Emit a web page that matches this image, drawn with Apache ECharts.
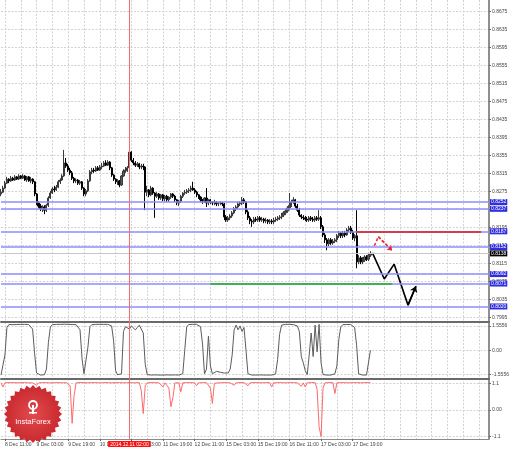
<!DOCTYPE html>
<html><head><meta charset="utf-8">
<script src="https://cdn.jsdelivr.net/npm/echarts@6/dist/echarts.min.js"></script>
<style>html,body{margin:0;padding:0;background:#fff}#c{width:510px;height:449px}</style>
</head><body><div id="c"></div>
<script>
// ---------- data ----------
const tickLabels = ["8 Dec 11:00","9 Dec 03:00","9 Dec 19:00","10 Dec 11:00","11 Dec 03:00","11 Dec 19:00","12 Dec 11:00","15 Dec 03:00","15 Dec 19:00","16 Dec 11:00","17 Dec 03:00","17 Dec 19:00"];
const priceTicks = [0.7995,0.8035,0.8075,0.8115,0.8155,0.8195,0.8235,0.8275,0.8315,0.8355,0.8395,0.8435,0.8475,0.8515,0.8555,0.8595,0.8635,0.8675];
const oscTicks = [-1.5556, 0, 1.5556];
const redTicks = [-1.1, 0, 1.1];

const opens = [
0.8270,0.8274,0.8283,0.8294,0.8303,0.8299,0.8305,0.8301,0.8308,0.8303,
0.8310,0.8305,0.8310,0.8301,0.8308,0.8299,0.8303,0.8297,0.8270,0.8250,
0.8243,0.8237,0.8241,0.8234,0.8245,0.8261,0.8272,0.8281,0.8279,0.8285,
0.8297,0.8301,0.8310,0.8339,0.8332,0.8323,0.8317,0.8305,0.8299,0.8301,
0.8294,0.8297,0.8283,0.8270,0.8277,0.8299,0.8319,0.8323,0.8321,0.8328,
0.8323,0.8330,0.8332,0.8339,0.8334,0.8341,0.8328,0.8312,0.8303,0.8297,
0.8299,0.8290,0.8310,0.8321,0.8323,0.8328,0.8363,0.8345,0.8339,0.8334,
0.8337,0.8330,0.8332,0.8330,0.8274,0.8279,0.8268,0.8283,0.8272,0.8265,
0.8270,0.8261,0.8268,0.8259,0.8265,0.8257,0.8263,0.8270,0.8265,0.8257,
0.8250,0.8254,0.8265,0.8272,0.8274,0.8277,0.8279,0.8283,0.8279,0.8274,
0.8268,0.8263,0.8257,0.8254,0.8261,0.8250,0.8257,0.8252,0.8250,0.8252,
0.8248,0.8250,0.8250,0.8248,0.8219,0.8212,0.8217,0.8221,0.8228,0.8237,
0.8241,0.8248,0.8250,0.8257,0.8252,0.8230,0.8217,0.8210,0.8208,0.8214,
0.8212,0.8217,0.8212,0.8214,0.8210,0.8212,0.8208,0.8210,0.8208,0.8212,
0.8214,0.8217,0.8219,0.8223,0.8228,0.8232,0.8239,0.8245,0.8252,0.8257,
0.8243,0.8234,0.8223,0.8219,0.8217,0.8214,0.8212,0.8217,0.8214,0.8212,
0.8217,0.8214,0.8217,0.8197,0.8179,0.8168,0.8159,0.8168,0.8161,0.8165,
0.8168,0.8177,0.8183,0.8177,0.8183,0.8179,0.8190,0.8194,0.8185,0.8172,
0.8177,0.8119,0.8128,0.8119,0.8123,0.8130,0.8125,0.8134];
const closes = [
0.8274,0.8283,0.8294,0.8303,0.8299,0.8305,0.8301,0.8308,0.8303,0.8310,
0.8305,0.8310,0.8301,0.8308,0.8299,0.8303,0.8297,0.8270,0.8250,0.8243,
0.8237,0.8241,0.8234,0.8245,0.8261,0.8272,0.8281,0.8279,0.8285,0.8297,
0.8301,0.8310,0.8339,0.8332,0.8323,0.8317,0.8305,0.8299,0.8301,0.8294,
0.8297,0.8283,0.8270,0.8277,0.8299,0.8319,0.8323,0.8321,0.8328,0.8323,
0.8330,0.8332,0.8339,0.8334,0.8341,0.8328,0.8312,0.8303,0.8297,0.8299,
0.8290,0.8310,0.8321,0.8323,0.8328,0.8363,0.8345,0.8339,0.8334,0.8337,
0.8330,0.8332,0.8330,0.8274,0.8279,0.8268,0.8283,0.8272,0.8265,0.8270,
0.8261,0.8268,0.8259,0.8265,0.8257,0.8263,0.8270,0.8265,0.8257,0.8250,
0.8254,0.8265,0.8272,0.8274,0.8277,0.8279,0.8283,0.8279,0.8274,0.8268,
0.8263,0.8257,0.8254,0.8261,0.8250,0.8257,0.8252,0.8250,0.8252,0.8248,
0.8250,0.8250,0.8248,0.8219,0.8212,0.8217,0.8221,0.8228,0.8237,0.8241,
0.8248,0.8250,0.8257,0.8252,0.8230,0.8217,0.8210,0.8208,0.8214,0.8212,
0.8217,0.8212,0.8214,0.8210,0.8212,0.8208,0.8210,0.8208,0.8212,0.8214,
0.8217,0.8219,0.8223,0.8228,0.8232,0.8239,0.8245,0.8252,0.8257,0.8243,
0.8234,0.8223,0.8219,0.8217,0.8214,0.8212,0.8217,0.8214,0.8212,0.8217,
0.8214,0.8217,0.8197,0.8179,0.8168,0.8159,0.8168,0.8161,0.8165,0.8168,
0.8177,0.8183,0.8177,0.8183,0.8179,0.8190,0.8194,0.8185,0.8172,0.8177,
0.8119,0.8128,0.8119,0.8123,0.8130,0.8125,0.8134,0.8138];
const highs = [
0.8281,0.8288,0.8299,0.8308,0.8305,0.8310,0.8308,0.8312,0.8310,0.8314,
0.8312,0.8314,0.8312,0.8310,0.8310,0.8308,0.8305,0.8299,0.8272,0.8254,
0.8248,0.8245,0.8245,0.8248,0.8265,0.8277,0.8285,0.8288,0.8290,0.8301,
0.8305,0.8314,0.8368,0.8350,0.8337,0.8328,0.8321,0.8308,0.8305,0.8303,
0.8301,0.8299,0.8285,0.8281,0.8303,0.8323,0.8328,0.8328,0.8332,0.8332,
0.8334,0.8339,0.8343,0.8345,0.8345,0.8343,0.8330,0.8314,0.8305,0.8303,
0.8301,0.8312,0.8325,0.8330,0.8332,0.8372,0.8365,0.8350,0.8343,0.8341,
0.8339,0.8337,0.8337,0.8332,0.8288,0.8281,0.8288,0.8285,0.8274,0.8274,
0.8272,0.8270,0.8270,0.8268,0.8268,0.8265,0.8272,0.8272,0.8268,0.8259,
0.8257,0.8268,0.8274,0.8279,0.8281,0.8283,0.8288,0.8297,0.8283,0.8277,
0.8270,0.8265,0.8259,0.8263,0.8283,0.8259,0.8259,0.8254,0.8257,0.8254,
0.8252,0.8254,0.8252,0.8250,0.8223,0.8221,0.8225,0.8232,0.8241,0.8245,
0.8252,0.8254,0.8263,0.8261,0.8254,0.8234,0.8221,0.8214,0.8219,0.8219,
0.8221,0.8221,0.8219,0.8217,0.8217,0.8214,0.8214,0.8214,0.8217,0.8219,
0.8221,0.8223,0.8228,0.8232,0.8237,0.8243,0.8272,0.8257,0.8263,0.8259,
0.8248,0.8239,0.8225,0.8223,0.8221,0.8219,0.8221,0.8221,0.8219,0.8221,
0.8221,0.8234,0.8221,0.8201,0.8183,0.8172,0.8172,0.8172,0.8170,0.8172,
0.8181,0.8188,0.8185,0.8188,0.8188,0.8194,0.8199,0.8199,0.8190,0.8181,
0.8234,0.8134,0.8132,0.8130,0.8134,0.8134,0.8139,0.8143];
const lows = [
0.8265,0.8272,0.8281,0.8292,0.8294,0.8297,0.8299,0.8299,0.8301,0.8301,
0.8303,0.8303,0.8299,0.8297,0.8297,0.8294,0.8292,0.8265,0.8245,0.8239,
0.8232,0.8230,0.8225,0.8230,0.8241,0.8259,0.8270,0.8274,0.8277,0.8283,
0.8292,0.8299,0.8308,0.8328,0.8319,0.8312,0.8301,0.8294,0.8294,0.8290,
0.8290,0.8279,0.8265,0.8265,0.8274,0.8297,0.8314,0.8317,0.8319,0.8321,
0.8321,0.8325,0.8330,0.8332,0.8332,0.8323,0.8308,0.8299,0.8292,0.8290,
0.8285,0.8288,0.8308,0.8317,0.8319,0.8325,0.8341,0.8334,0.8330,0.8330,
0.8325,0.8325,0.8323,0.8234,0.8265,0.8263,0.8265,0.8268,0.8217,0.8261,
0.8257,0.8257,0.8254,0.8254,0.8252,0.8252,0.8259,0.8261,0.8252,0.8245,
0.8243,0.8250,0.8261,0.8268,0.8270,0.8272,0.8274,0.8277,0.8270,0.8263,
0.8259,0.8252,0.8248,0.8250,0.8241,0.8245,0.8248,0.8245,0.8245,0.8243,
0.8243,0.8245,0.8243,0.8212,0.8208,0.8208,0.8212,0.8217,0.8225,0.8232,
0.8237,0.8243,0.8245,0.8248,0.8225,0.8212,0.8203,0.8197,0.8203,0.8208,
0.8208,0.8208,0.8208,0.8205,0.8205,0.8203,0.8203,0.8203,0.8203,0.8208,
0.8210,0.8212,0.8214,0.8219,0.8223,0.8228,0.8234,0.8241,0.8248,0.8239,
0.8230,0.8219,0.8214,0.8212,0.8210,0.8208,0.8208,0.8210,0.8208,0.8208,
0.8210,0.8210,0.8192,0.8174,0.8161,0.8145,0.8154,0.8157,0.8157,0.8161,
0.8163,0.8172,0.8172,0.8172,0.8174,0.8177,0.8185,0.8181,0.8168,0.8165,
0.8105,0.8114,0.8114,0.8114,0.8119,0.8121,0.8121,0.8130];

const oscValues = [
-1.58,-1.55,-0.3,1.45,1.64,1.65,1.63,1.65,1.64,1.65,
1.65,1.64,1.65,1.63,1.64,1.62,1.35,-0.2,-1.45,-1.57,
-1.58,-1.58,-1.56,-1.2,0.5,1.5,1.63,1.65,1.65,1.64,
1.65,1.65,1.66,1.65,1.65,1.64,1.64,1.65,1.63,1.6,
1.3,-0.5,-1.5,-1.56,0.2,1.5,1.63,1.65,1.65,1.66,
1.65,1.65,1.65,1.64,1.65,1.63,1.55,0.6,-1.3,-1.56,
-1.58,-1.5,1.2,1.5,1.55,1.35,1.55,1.6,1.3,1.45,
1.6,1.5,1.1,-0.9,-1.55,-1.57,-1.58,-1.58,-1.57,-1.58,
-1.58,-1.57,-1.58,-1.58,-1.57,-1.58,-1.58,-1.58,-1.57,-1.58,
-1.58,-1.57,-1.5,0.0,1.5,1.64,1.65,1.65,1.64,1.65,
1.63,1.5,0.4,-1.5,-1.2,0.9,-1.0,-1.5,-1.45,-1.35,
-1.45,-1.4,-1.3,-1.45,-1.5,-1.45,-1.2,-0.3,1.3,1.6,
1.3,1.55,1.2,1.45,0.0,-1.5,-1.56,-1.58,-1.57,-1.58,
-1.58,-1.57,-1.58,-1.58,-1.57,-1.58,-1.56,-1.58,-1.57,-1.5,
-0.6,1.0,1.6,1.64,1.65,1.64,1.65,1.64,1.63,1.6,
1.55,1.2,-0.4,-0.8,-1.3,-1.55,-0.3,1.1,-0.4,1.6,
-0.1,1.65,-0.8,-1.55,-1.57,-1.58,-1.57,-1.58,-1.56,-1.5,
-1.0,0.7,1.5,1.63,1.65,1.64,1.65,1.64,1.6,1.45,
0.3,-1.5,-1.57,-1.58,-1.57,-1.58,-1.56,0.0];

const redValues = [
1.12,0.95,1.12,1.13,1.13,1.12,1.13,1.13,1.12,1.13,
1.13,1.12,1.13,1.13,1.12,1.13,1.12,1.12,1.02,1.12,
1.13,1.13,1.12,1.13,1.13,1.12,1.13,1.13,1.12,1.13,
1.13,1.12,1.13,1.13,1.12,1.0,-0.55,0.6,1.12,1.13,
1.13,1.12,1.13,1.13,1.12,1.13,1.13,1.12,1.13,1.13,
1.12,1.13,1.13,1.12,1.13,1.13,1.12,1.13,1.13,1.12,
1.13,1.13,1.12,1.13,1.13,1.12,1.13,1.13,1.12,1.13,
1.13,0.8,-0.15,1.0,1.12,1.13,1.13,1.12,1.13,1.13,
1.12,1.13,0.95,1.12,1.13,0.9,0.13,0.5,1.12,1.13,
1.12,0.75,1.12,1.13,1.13,1.12,1.13,1.13,1.12,1.0,
1.12,1.13,1.13,1.12,1.13,1.13,0.9,0.27,1.1,1.13,
1.12,1.13,1.13,1.12,1.13,1.13,1.12,1.13,1.02,1.12,
1.13,1.13,1.12,1.13,1.12,1.0,1.12,1.13,1.13,1.12,
1.13,1.13,1.12,1.13,1.13,1.12,1.13,0.95,1.12,1.13,
1.13,1.12,1.13,1.13,1.12,1.13,1.13,1.12,1.13,1.13,
1.12,1.13,0.98,1.12,0.95,1.12,1.13,1.13,1.12,1.13,
0.85,-0.7,-1.1,0.9,1.12,1.13,1.13,1.12,1.13,0.68,
1.12,1.13,1.13,1.12,1.13,1.13,1.12,1.13,1.13,1.12,
1.13,1.13,1.12,1.13,1.13,1.12,1.13,1.13];

const levelLines = [0.8252, 0.8237, 0.8187, 0.8152, 0.8092, 0.8071, 0.8020];
const bidPrice = 0.8138;
const redLevel = {price: 0.8187, from: 180, to: 243};
const greenLevel = {price: 0.8071, from: 106, to: 198};
const forecastBlack = [[188,0.8139],[194,0.8081],[199,0.8114],[206,0.8023],[210,0.8065]];
const forecastRed = [[189,0.8155],[191,0.8175],[198,0.8144]];
const markerIndex = 65;
const markerLabel = '2014.12.11 02:00';
const slotCount = 248;

// ---------- chart ----------
const FONT = 'Liberation Sans';
const cats = Array.from({length: slotCount}, (_, i) => String(i));
const candleData = closes.map((c, i) => [opens[i], c, lows[i], highs[i]]);
const gridLine = {color: '#d2d2d2', type: [2, 1.5], width: 1};
const xSplit = i => i >= 2 && (i - 2) % 8 === 0;
const xLab = i => i >= 2 && (i - 2) % 16 === 0 && (i - 2) / 16 < tickLabels.length;

function xAxisFor(g, extra) {
  return Object.assign({
    gridIndex: g, type: 'category', data: cats, boundaryGap: false,
    axisLine: {show: true, onZero: false, lineStyle: {color: '#6a6a6a', width: 2}},
    axisTick: {show: false}, axisLabel: {show: false},
    splitLine: {show: true, interval: xSplit, lineStyle: gridLine}
  }, extra || {});
}
function yAxisFor(g, min, max, ticks, fmt) {
  return {
    gridIndex: g, type: 'value', position: 'right', min: min, max: max,
    axisLine: {show: true, lineStyle: {color: '#6a6a6a', width: 1.5}},
    axisTick: {show: true, customValues: ticks, length: 2, lineStyle: {color: '#6a6a6a'}},
    axisLabel: {show: true, customValues: ticks, formatter: fmt, fontSize: 5, color: '#444', margin: 3, fontFamily: FONT},
    splitLine: {show: true, lineStyle: gridLine}
  };
}
const boxLabel = (txt, bg) => ({show: true, position: 'end', formatter: txt, backgroundColor: bg, color: '#fff',
  fontSize: 5, fontFamily: FONT, padding: [1, 1, 0, 1], distance: 1});

const mainMarks = levelLines.map(v => ({yAxis: v, lineStyle: {color: '#8c8cff', width: 1.5, type: 'solid'}, label: boxLabel(v.toFixed(4), '#2e2ee0')}));
mainMarks.push({yAxis: bidPrice, lineStyle: {color: '#c8c8c8', width: 1, type: 'solid'}, label: boxLabel(bidPrice.toFixed(4), '#000')});
mainMarks.push({xAxis: String(markerIndex), lineStyle: {color: '#f07070', width: 1, type: 'solid'}, label: {show: false}});
mainMarks.push([{coord: [String(greenLevel.from), greenLevel.price], lineStyle: {color: '#22b022', width: 1.5, type: 'solid'}, label: {show: false}}, {coord: [String(greenLevel.to), greenLevel.price]}]);
mainMarks.push([{coord: [String(redLevel.from), redLevel.price], lineStyle: {color: '#e01818', width: 1.5, type: 'solid'}, label: {show: false}}, {coord: [String(redLevel.to), redLevel.price]}]);

const chart = echarts.init(document.getElementById('c'), null, {renderer: 'canvas'});
const cx = 33, cy = 414, rO = 29, rI = 26, nP = 28;
const sealPts = [];
for (let k = 0; k < nP * 2; k++) {
  const r = k % 2 ? rI : rO, a = Math.PI * k / nP - Math.PI / 2;
  sealPts.push([cx + r * Math.cos(a), cy + r * Math.sin(a)]);
}

chart.setOption({
  animation: false,
  backgroundColor: '#fff',
  grid: [
    {left: 1, right: 21, top: 0, height: 322, outerBoundsMode: 'none'},
    {left: 1, right: 21, top: 322, height: 56.5, outerBoundsMode: 'none'},
    {left: 1, right: 21, top: 378.5, height: 60.5, outerBoundsMode: 'none'}
  ],
  xAxis: [
    xAxisFor(0),
    xAxisFor(1),
    xAxisFor(2, {
      axisLine: {show: true, onZero: false, lineStyle: {color: '#8a8a8a', width: 1}},
      axisTick: {show: true, interval: xLab, length: 2, lineStyle: {color: '#666'}},
      axisLabel: {show: true, interval: xLab, align: 'left', margin: 3, fontSize: 5, color: '#444', fontFamily: FONT,
        formatter: (v, idx) => tickLabels[(idx - 2) / 16] || ''}
    })
  ],
  yAxis: [
    yAxisFor(0, 0.79855, 0.8701, priceTicks, v => v.toFixed(4)),
    yAxisFor(1, -1.8, 1.8, oscTicks, v => v === 0 ? '0.00' : v.toFixed(4)),
    yAxisFor(2, -1.2, 1.3, redTicks, v => v === 0 ? '0.00' : String(v))
  ],
  series: [
    {
      type: 'candlestick', xAxisIndex: 0, yAxisIndex: 0, data: candleData, barWidth: 1.6, clip: false,
      itemStyle: {color: '#5a5a5a', color0: '#000', borderColor: '#3a3a3a', borderColor0: '#000', borderWidth: 1},
      markLine: {silent: true, precision: 4, symbol: ['none', 'none'], data: mainMarks}
    },
    {
      type: 'line', xAxisIndex: 0, yAxisIndex: 0, data: forecastBlack, symbol: 'none', clip: false,
      lineStyle: {color: '#000', width: 1.6},
      markLine: {silent: true, precision: 4, symbol: ['none', 'arrow'], symbolSize: 6,
        lineStyle: {color: '#000', width: 1.6, type: 'solid'}, label: {show: false},
        data: [[{coord: [String(forecastBlack[3][0]), forecastBlack[3][1]]}, {coord: [String(forecastBlack[4][0]), forecastBlack[4][1]]}]]}
    },
    {
      type: 'line', xAxisIndex: 0, yAxisIndex: 0, data: forecastRed, symbol: 'none', clip: false,
      lineStyle: {color: '#e8283a', width: 1.5, type: [3, 2]},
      markLine: {silent: true, precision: 4, symbol: ['none', 'arrow'], symbolSize: 5,
        lineStyle: {color: '#e8283a', width: 1.5, type: [3, 2]}, label: {show: false},
        data: [[{coord: [String(forecastRed[1][0]), forecastRed[1][1]]}, {coord: [String(forecastRed[2][0]), forecastRed[2][1]]}]]}
    },
    {
      type: 'line', xAxisIndex: 1, yAxisIndex: 1, data: oscValues, symbol: 'none',
      lineStyle: {color: '#5c5c5c', width: 1},
      markLine: {silent: true, symbol: ['none', 'none'], label: {show: false},
        data: [{xAxis: String(markerIndex), lineStyle: {color: '#f07070', width: 1, type: 'solid'}}]}
    },
    {
      type: 'line', xAxisIndex: 2, yAxisIndex: 2, data: redValues, symbol: 'none', clip: false,
      lineStyle: {color: '#ff6a6a', width: 1},
      markLine: {silent: true, symbol: ['none', 'none'],
        data: [{xAxis: String(markerIndex), lineStyle: {color: '#f07070', width: 1, type: 'solid'},
          label: {show: true, position: 'start', formatter: markerLabel, backgroundColor: '#ff1010', color: '#fff',
            fontSize: 5, fontFamily: FONT, padding: [1, 2, 0, 2], distance: 2}}]}
    }
  ],
  graphic: [
    {type: 'polygon', z: 100, shape: {points: sealPts},
      style: {fill: new echarts.graphic.RadialGradient(0.5, 0.5, 0.5, [{offset: 0, color: '#e24a4e'}, {offset: 1, color: '#c8292e'}])}},
    {type: 'circle', z: 101, shape: {cx: cx, cy: cy - 9, r: 4}, style: {fill: 'none', stroke: '#fff', lineWidth: 1.8}},
    {type: 'rect', z: 101, shape: {x: cx - 1, y: cy - 9, width: 2, height: 9}, style: {fill: '#fff'}},
    {type: 'rect', z: 101, shape: {x: cx - 4, y: cy - 2, width: 8, height: 1.5}, style: {fill: '#fff'}},
    {type: 'text', z: 101, style: {text: 'InstaForex', x: cx, y: cy + 8, fill: '#fff', font: '7.5px "Liberation Sans"', align: 'center', verticalAlign: 'middle'}}
  ]
});
</script></body></html>
